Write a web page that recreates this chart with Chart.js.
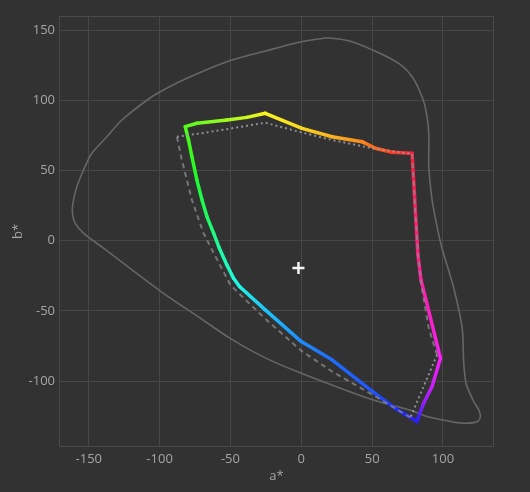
<!DOCTYPE html>
<html>
<head>
<meta charset="utf-8">
<script src="https://cdn.jsdelivr.net/npm/chart.js@4.4.1/dist/chart.umd.min.js"></script>
<style>
  html,body{margin:0;padding:0;background:#323232;}
  #wrap{width:530px;height:492px;position:relative;}
</style>
</head>
<body>
<div id="wrap"><canvas id="gamutChart"></canvas></div>
<script>
// ---- data (a*, b*)
const xTicks = [-150, -100, -50, 0, 50, 100];
const yTicks = [-100, -50, 0, 50, 100, 150];
const xRange = [-171, 136];
const yRange = [-147, 160];

const whitePoint = [[-2, -19.5]];

// visible locus outline
const locus = [
  [18,144.5],[33.4,142.3],[50.4,135.7],[68.7,126.3],[78.2,116.7],[85.2,102.5],[88.5,90],
  [90,76],[90,53],[92.3,29],[95.8,10],[99.3,-5.4],[107.6,-33.9],[113.5,-62],[114.6,-87],
  [115.8,-99],[117,-104],[121.7,-114.6],[125.2,-120.5],[126.4,-125.3],[124,-129],
  [113.5,-130],[101.7,-128.1],[90,-125.7],[75.8,-120.5],[50.4,-113.4],[0,-94.4],
  [-25.4,-83.5],[-49.6,-70],[-71.3,-55.2],[-99,-36.3],[-139.6,-5.4],
  [-153.7,5.3],[-159.6,12.4],[-161.5,19.5],[-161.2,26.6],[-158.4,38.4],
  [-153.7,50.3],[-147.8,62.2],[-137.2,74],[-126.6,85.9],[-109,100],[-99.6,106],
  [-80.7,115.6],[-52.5,127.4],[-25.4,135],[0,141.6],[18,144.5]
];

// measured gamut (coloured)
const gamut = [
  [-81.9,81.2],[-73.7,83.6],[-52.5,86],[-38.4,87.8],[-25.4,90.7],[0.5,80],[21.7,74],
  [42.9,70.5],[52.3,65.8],[64,62.9],[78.2,62.2],[80,30],[82.3,-10],[84.5,-28],[98.2,-83.7],
  [92.3,-103.9],[86.4,-115.7],[82.8,-125.3],[81.7,-128.8],[66.8,-119.8],[50.4,-107.5],
  [21.7,-84.9],[0,-71.9],[-25.4,-49.3],[-43.6,-32.7],[-47.8,-26.8],[-52.5,-17.3],
  [-58.2,-4.5],[-61.9,5.3],[-66.6,17.1],[-70.1,29],[-73.7,43.2],[-77.2,59.8],
  [-79.6,71.7],[-81.9,81.2]
];

// reference gamut, dashed parts
const refDashed = [
  [78.2,61.7],[80.5,20],[82.8,-13.7],[84.5,-30],[89.9,-62.3],[95.8,-81.4],null,
  [77,-126],[50.4,-109.8],[21.7,-93.2],[0,-78.5],[-25.4,-55.7],[-43,-38.6],[-50.1,-31.5],
  [-63,-6.6],[-69,5.3],[-77.2,29],[-84.3,57.4],[-87.8,74]
];

// reference gamut, dotted parts
const refDotted = [
  [-87.8,74],[-67.8,76.9],[-49,80],[-25.4,84],[-1.9,77.6],[21.7,71.7],[49.9,65.8],[78.2,61.7],null,
  [95.8,-81.4],[77,-126]
];

const pts = arr => arr.map(p => p ? {x:p[0], y:p[1]} : {x:null, y:null});
const gamutPts = pts(gamut);

// ---- colour along the gamut: lab hue angle -> hsl hue
const HUE_MAP = [[38,350],[45,370],[58,388],[75,402],[90,410],[105,418],[115,435],[135,465],
  [150,485],[185,515],[217,535],[243,555],[270,570],[295,585],[303,605],[306,630],[311,645],
  [319,660],[342,685],[356,695],[380,703],[398,710]];
function hueAt(a, b){
  let t = Math.atan2(b, a) * 180 / Math.PI;
  while(t < 38) t += 360;
  while(t >= 398) t -= 360;
  for(let i=0;i<HUE_MAP.length-1;i++){
    const [a0,h0]=HUE_MAP[i], [a1,h1]=HUE_MAP[i+1];
    if(t>=a0 && t<=a1) return (h0 + (h1-h0)*(t-a0)/(a1-a0)) % 360;
  }
  return 0;
}
const colorAt = p => `hsl(${hueAt(p.x,p.y).toFixed(1)},95%,55%)`;

// frame round the plot area
const framePlugin = {
  id:'frame',
  beforeDatasetsDraw(chart){
    const {ctx, chartArea:a} = chart;
    ctx.save();
    ctx.strokeStyle = '#4a4a4a';
    ctx.lineWidth = 1;
    ctx.strokeRect(a.left+0.5, a.top+0.5, a.right-a.left-1, a.bottom-a.top-1);
    ctx.restore();
  }
};

const tickFont = {family:"'Open Sans', sans-serif", size:13};

new Chart(document.getElementById('gamutChart'), {
  type:'scatter',
  data:{
    datasets:[
      { label:'white', data:pts(whitePoint), pointStyle:'cross', pointRadius:6,
        borderColor:'#f4f4f4', backgroundColor:'#f4f4f4', borderWidth:2.5, order:0 },
      { label:'ref dotted', data:pts(refDotted), showLine:true, pointRadius:0,
        borderColor:'rgba(160,160,168,0.85)', borderWidth:2, borderDash:[2,3], order:1 },
      { label:'ref dashed', data:pts(refDashed), showLine:true, pointRadius:0,
        borderColor:'rgba(140,140,140,0.75)', borderWidth:2, borderDash:[5,4], order:2 },
      { label:'gamut', data:gamutPts, showLine:true, pointRadius:0, borderWidth:3.5,
        borderColor:'#ffffff', borderCapStyle:'round', borderJoinStyle:'round', order:3,
        segment:{
          borderColor: c => {
            const g = c.chart.ctx.createLinearGradient(c.p0.x, c.p0.y, c.p1.x, c.p1.y);
            g.addColorStop(0, colorAt(gamutPts[c.p0DataIndex]));
            g.addColorStop(1, colorAt(gamutPts[c.p1DataIndex]));
            return g;
          }
        } },
      { label:'locus', data:pts(locus), showLine:true, pointRadius:0, tension:0.3,
        borderColor:'#666666', borderWidth:1.6, order:4 }
    ]
  },
  options:{
    responsive:true, maintainAspectRatio:false, animation:false, events:[],
    layout:{ padding:{left:0, right:36, top:16, bottom:0} },
    plugins:{ legend:{display:false}, tooltip:{enabled:false} },
    scales:{
      x:{
        type:'linear', min:xRange[0], max:xRange[1],
        afterBuildTicks: s => { s.ticks = xTicks.map(v => ({value:v})); },
        afterFit: s => { s.height = 45; },
        grid:{ color:'#474747', drawTicks:false },
        border:{ display:false },
        ticks:{ color:'#a6a6a6', font:tickFont, padding:4 },
        title:{ display:true, text:'a*', color:'#a6a6a6', font:tickFont, padding:{top:0, bottom:8} }
      },
      y:{
        type:'linear', min:yRange[0], max:yRange[1],
        afterBuildTicks: s => { s.ticks = yTicks.map(v => ({value:v})); },
        afterFit: s => { s.width = 59; },
        grid:{ color:'#474747', drawTicks:false },
        border:{ display:false },
        ticks:{ color:'#a6a6a6', font:tickFont, padding:4 },
        title:{ display:true, text:'b*', color:'#a6a6a6', font:tickFont, padding:{top:10, bottom:0} }
      }
    }
  },
  plugins:[framePlugin]
});
</script>
</body>
</html>
